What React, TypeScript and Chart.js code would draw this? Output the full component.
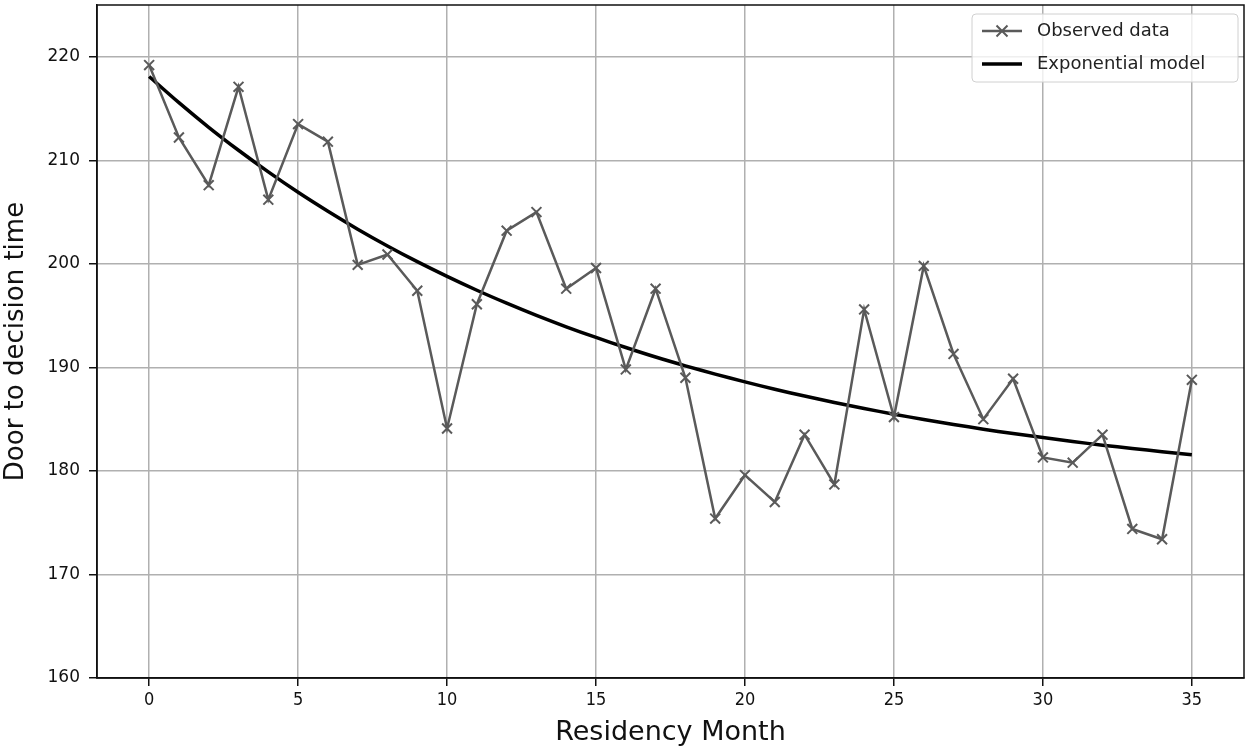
import React, { useEffect, useRef } from "react";
import { Chart, registerables } from "chart.js";

Chart.register(...registerables);

const months: number[] = Array.from({ length: 36 }, (_, i) => i);
const observed: number[] = [
  219.2, 212.2, 207.6, 217.1, 206.2, 213.5, 211.8, 199.9, 200.9, 197.4,
  184.1, 196.1, 203.2, 205.0, 197.6, 199.6, 189.8, 197.6, 189.0, 175.4,
  179.6, 177.0, 183.5, 178.7, 195.6, 185.2, 199.8, 191.3, 185.0, 188.9,
  181.3, 180.8, 183.5, 174.4, 173.4, 188.8,
];
const model: number[] = [
  218.1, 215.57, 213.19, 210.97, 208.88, 206.91, 205.08, 203.35, 201.73, 200.21,
  198.79, 197.45, 196.2, 195.02, 193.92, 192.89, 191.92, 191.0, 190.15, 189.35,
  188.6, 187.89, 187.23, 186.61, 186.03, 185.48, 184.97, 184.49, 184.03, 183.61,
  183.22, 182.84, 182.49, 182.17, 181.86, 181.57,
];
const xTicks: number[] = [0, 5, 10, 15, 20, 25, 30, 35];
const yTicks: number[] = [160, 170, 180, 190, 200, 210, 220];
const seriesLabels: string[] = ["Observed data", "Exponential model"];
const xTitle = "Residency Month";
const yTitle = "Door to decision time";

const OBS_COLOR = "#5a5a5a";
const FONT = "'DejaVu Sans', 'Liberation Sans', sans-serif";

const framePlugin = {
  id: "frame",
  afterDraw(chart: any) {
    const { ctx, chartArea: a } = chart;
    ctx.save();
    ctx.strokeStyle = "#111";
    ctx.lineWidth = 1.5;
    ctx.strokeRect(a.left, a.top, a.right - a.left, a.bottom - a.top);
    // legend
    const w = 266;
    const h = 68;
    const x = a.right - 6 - w;
    const y = a.top + 9;
    ctx.beginPath();
    const r = 4;
    ctx.moveTo(x + r, y);
    ctx.arcTo(x + w, y, x + w, y + h, r);
    ctx.arcTo(x + w, y + h, x, y + h, r);
    ctx.arcTo(x, y + h, x, y, r);
    ctx.arcTo(x, y, x + w, y, r);
    ctx.closePath();
    ctx.fillStyle = "rgba(255,255,255,0.8)";
    ctx.fill();
    ctx.strokeStyle = "#d0d0d0";
    ctx.lineWidth = 1;
    ctx.stroke();
    const rows = [y + 17, y + 50];
    ctx.strokeStyle = OBS_COLOR;
    ctx.lineWidth = 2.5;
    ctx.beginPath();
    ctx.moveTo(x + 10, rows[0]);
    ctx.lineTo(x + 50, rows[0]);
    ctx.stroke();
    ctx.lineWidth = 2;
    const m = 5.5;
    const cx = x + 30;
    ctx.beginPath();
    ctx.moveTo(cx - m, rows[0] - m);
    ctx.lineTo(cx + m, rows[0] + m);
    ctx.moveTo(cx - m, rows[0] + m);
    ctx.lineTo(cx + m, rows[0] - m);
    ctx.stroke();
    ctx.strokeStyle = "#000";
    ctx.lineWidth = 3.5;
    ctx.beginPath();
    ctx.moveTo(x + 10, rows[1]);
    ctx.lineTo(x + 50, rows[1]);
    ctx.stroke();
    ctx.fillStyle = "#222";
    ctx.font = `18px ${FONT}`;
    ctx.textBaseline = "middle";
    ctx.textAlign = "left";
    ctx.fillText(seriesLabels[0], x + 65, rows[0]);
    ctx.fillText(seriesLabels[1], x + 65, rows[1]);
    ctx.restore();
  },
};

export default function App() {
  const ref = useRef<HTMLCanvasElement | null>(null);
  useEffect(() => {
    if (!ref.current) return;
    const chart = new Chart(ref.current, {
      type: "line",
      data: {
        datasets: [
          {
            label: seriesLabels[0],
            data: months.map((m, i) => ({ x: m, y: observed[i] })),
            borderColor: OBS_COLOR,
            backgroundColor: OBS_COLOR,
            borderWidth: 2.5,
            pointStyle: "crossRot",
            pointRadius: 7,
            pointBorderWidth: 2,
            pointBorderColor: OBS_COLOR,
            tension: 0,
          },
          {
            label: seriesLabels[1],
            data: months.map((m, i) => ({ x: m, y: model[i] })),
            borderColor: "#000",
            borderWidth: 3.5,
            pointRadius: 0,
            tension: 0.3,
          },
        ],
      },
      options: {
        responsive: false,
        animation: false,
        events: [],
        layout: { autoPadding: false, padding: { top: 5, right: 9, left: 0, bottom: 0 } },
        plugins: { legend: { display: false }, tooltip: { enabled: false } },
        scales: {
          x: {
            type: "linear",
            min: -1.75,
            max: 36.75,
            afterBuildTicks: (s: any) => {
              s.ticks = xTicks.map((v) => ({ value: v }));
            },
            afterFit: (s: any) => {
              s.height = 74;
              s.paddingLeft = 0;
              s.paddingRight = 0;
            },
            grid: { color: "#b0b0b0", lineWidth: 1.5, tickColor: "#111", tickLength: 8 },
            border: { color: "#111", width: 1.5 },
            ticks: {
              color: "#111",
              padding: 4,
              maxRotation: 0,
              font: { family: "'DejaVu Sans Condensed', 'DejaVu Sans', sans-serif", size: 18 },
            },
            title: {
              display: true,
              text: xTitle,
              color: "#111",
              font: { family: FONT, size: 27 },
              padding: { top: 0, bottom: 3 },
            },
          },
          y: {
            type: "linear",
            min: 160,
            max: 225,
            afterBuildTicks: (s: any) => {
              s.ticks = yTicks.map((v) => ({ value: v }));
            },
            afterFit: (s: any) => {
              s.width = 97;
              s.paddingTop = 0;
              s.paddingBottom = 0;
            },
            grid: { color: "#b0b0b0", lineWidth: 1.5, tickColor: "#111", tickLength: 8 },
            border: { color: "#111", width: 1.5 },
            ticks: {
              color: "#111",
              padding: 9,
              font: { family: FONT, size: 17 },
            },
            title: {
              display: true,
              text: yTitle,
              color: "#111",
              font: { family: FONT, size: 26 },
              padding: { top: 1, bottom: 0 },
            },
          },
        },
      },
      plugins: [framePlugin],
    } as any);
    return () => chart.destroy();
  }, []);
  return (
    <canvas
      ref={ref}
      width={1253}
      height={752}
      style={{ position: "absolute", left: 0, top: 0, width: 1253, height: 752 }}
    />
  );
}
